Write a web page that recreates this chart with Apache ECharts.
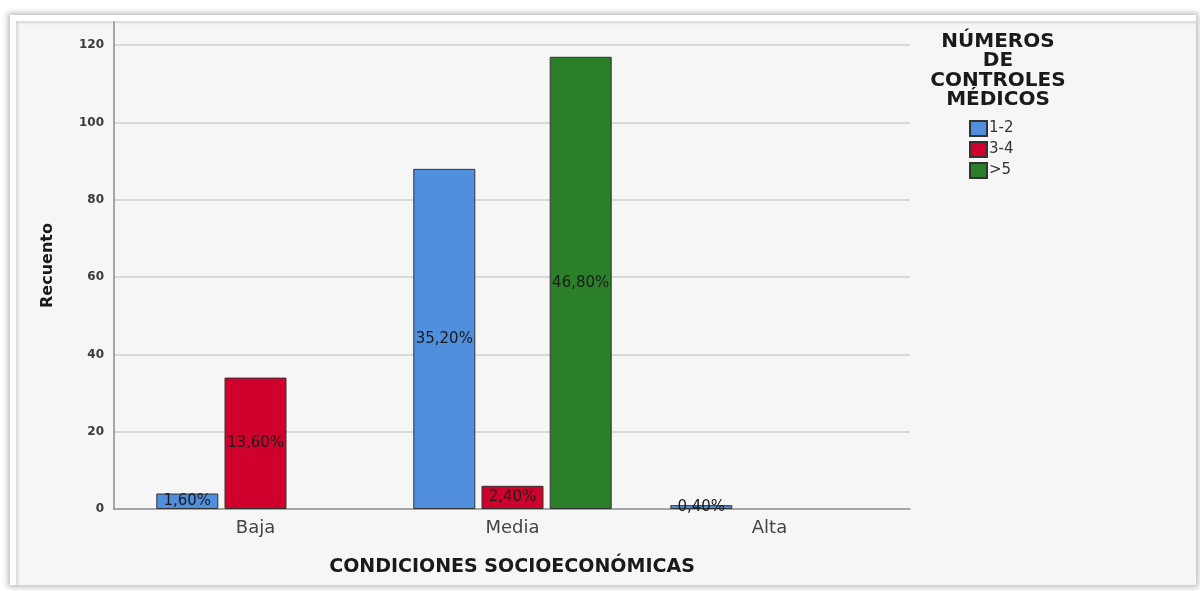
<!DOCTYPE html>
<html>
<head>
<meta charset="utf-8">
<script src="https://cdn.jsdelivr.net/npm/echarts@6/dist/echarts.min.js"></script>
<style>
  html, body { margin: 0; padding: 0; background: #ffffff; }
  #panel {
    position: absolute; left: 10px; top: 15px; width: 1186px; height: 570px;
    background: #f6f6f6;
    box-shadow: 0 0 6px 2px rgba(0,0,0,0.28), inset 6px 6px 0 0 #ffffff, inset 8px 8px 3px 0 rgba(0,0,0,0.12);
  }
  #chart { position: absolute; left: 0; top: 0; width: 1200px; height: 591px; }
</style>
</head>
<body>
<div id="panel"></div>
<div id="chart"></div>
<script>
// Socioeconomic condition vs number of medical check-ups (counts)
const categories = ['Baja', 'Media', 'Alta'];
const seriesNames = ['1-2', '3-4', '>5'];
const controles12 = [4, 88, 1];
const controles34 = [34, 6, 0];
const controles5 = [0, 117, 0];
const yTicks = [0, 20, 40, 60, 80, 100, 120];

const colors = ['#4f8fdd', '#d0002c', '#2a7f28'];
const allSeries = [controles12, controles34, controles5];
const total = allSeries.flat().reduce((a, b) => a + b, 0);

const fontFamily = 'DejaVu Sans, Arial, sans-serif';

const chart = echarts.init(document.getElementById('chart'), null, { renderer: 'canvas' });

const gridTop = 22, gridBottom = 591 - 509;

const option = {
  backgroundColor: 'transparent',
  animation: false,
  textStyle: { fontFamily },
  title: {
    text: 'NÚMEROS\nDE\nCONTROLES\nMÉDICOS',
    left: 993, top: 27,
    textAlign: 'center',
    textStyle: { fontSize: 20, fontWeight: 'bold', color: '#1a1a1a', lineHeight: 19.5, fontFamily }
  },
  legend: {
    orient: 'vertical',
    left: 964, top: 115,
    itemWidth: 17, itemHeight: 15, itemGap: 4,
    icon: 'rect',
    textStyle: { fontSize: 15, color: '#333', padding: [0, 0, 0, -3], fontFamily },
    data: seriesNames
  },
  grid: [
    // axes frame with gridlines
    { left: 114, width: 796, top: gridTop, bottom: gridBottom },
    // bars
    { left: 127, width: 771, top: gridTop, bottom: gridBottom }
  ],
  xAxis: [
    {
      gridIndex: 0, type: 'value', min: 0, max: 1,
      axisLine: { show: true, lineStyle: { color: '#8c8c8c', width: 1.5 } },
      axisTick: { show: false }, axisLabel: { show: false }, splitLine: { show: false },
      name: 'CONDICIONES SOCIOECONÓMICAS', nameLocation: 'middle', nameGap: 49,
      nameTextStyle: { fontSize: 19, fontWeight: 'bold', color: '#1a1a1a', fontFamily }
    },
    {
      gridIndex: 1, type: 'category', data: categories,
      axisLine: { show: false }, axisTick: { show: false },
      axisLabel: { fontSize: 18, color: '#444', margin: 10, fontFamily }
    }
  ],
  yAxis: [
    {
      gridIndex: 0, type: 'value', min: 0, max: 126, interval: 20,
      axisLine: { show: true, lineStyle: { color: '#8c8c8c', width: 1.5 } },
      axisTick: { show: false },
      axisLabel: {
        fontSize: 12, fontWeight: 'bold', color: '#3a3a3a', margin: 10, fontFamily,
        formatter: v => (yTicks.includes(v) ? String(v) : '')
      },
      splitLine: {
        show: true,
        lineStyle: {
          color: ['transparent', '#cfcfcf', '#cfcfcf', '#cfcfcf', '#cfcfcf', '#cfcfcf', '#cfcfcf', 'transparent'],
          width: 1.5
        }
      },
      name: 'Recuento', nameLocation: 'middle', nameGap: 58, nameRotate: 90,
      nameTextStyle: { fontSize: 16, fontWeight: 'bold', color: '#1a1a1a', fontFamily }
    },
    {
      gridIndex: 1, type: 'value', min: 0, max: 126, interval: 20, show: false
    }
  ],
  series: seriesNames.map((name, i) => ({
    name,
    type: 'bar',
    xAxisIndex: 1, yAxisIndex: 1,
    barWidth: 62, barGap: '10%',
    itemStyle: { color: colors[i], borderColor: '#333', borderWidth: 1 },
    label: {
      show: true, position: 'inside', fontSize: 15, color: '#1a1a1a', fontFamily,
      formatter: p => (p.value * 100 / total).toFixed(2).replace('.', ',') + '%'
    },
    data: allSeries[i].map(v => (v === 0 ? '-' : v))
  }))
};

chart.setOption(option);
</script>
</body>
</html>
